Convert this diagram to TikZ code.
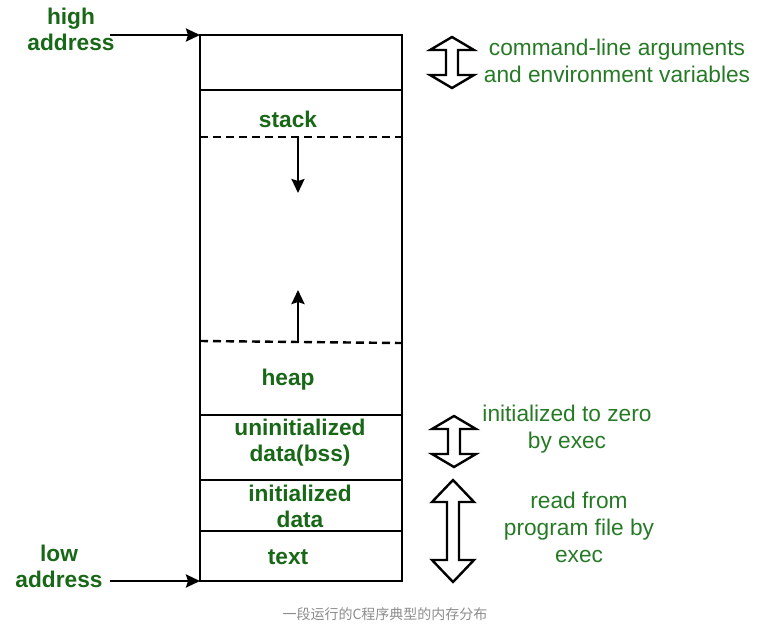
\documentclass[tikz,border=0pt]{standalone}
\usepackage{fontspec}
\setmainfont{Liberation Sans}
\newfontfamily\cjkfont{Noto Sans CJK SC}
\usepackage{tikz}
\usetikzlibrary{
  positioning,
  arrows.meta,
  arrows
}
\definecolor{labelgreen}{RGB}{24,104,24}
\definecolor{notegreen}{RGB}{38,122,38}
\definecolor{captiongray}{RGB}{140,140,140}

\tikzset{
  seg/.style={font=\fontsize{22.7}{26}\selectfont\bfseries, text=labelgreen, align=center, inner sep=0pt},
  note/.style={font=\fontsize{22.7}{27}\selectfont, text=notegreen, align=center, inner sep=0pt},
  hollow/.style={draw=black, line width=2.4pt, fill=white, line join=miter},
  cut/.style={dash pattern=on 8pt off 5pt, line width=2.4pt}
}

% hollow double arrow: x, top, bottom, head length, head half width
\newcommand{\hollowarrow}[5]{%
  \draw[hollow] (#1,#2) -- ({#1+#5},{#2+#4}) -- ({#1+6},{#2+#4}) -- ({#1+6},{#3-#4})
    -- ({#1+#5},{#3-#4}) -- (#1,#3) -- ({#1-#5},{#3-#4}) -- ({#1-6},{#3-#4})
    -- ({#1-6},{#2+#4}) -- ({#1-#5},{#2+#4}) -- cycle;}

\begin{document}
\begin{tikzpicture}[x=1pt,y=-1pt,>={Stealth[length=14pt,width=13pt,inset=2pt]},line width=2.4pt]
        \useasboundingbox (0,0) rectangle (768,627);
        % memory block
        \coordinate (memtop) at (200,35);
        \coordinate (membot) at (200,581);
        \draw (memtop) rectangle (402,581);
        \draw (200,90) -- (402,90);
        \draw (200,415) -- (402,415);
        \draw (200,480) -- (402,480);
        \draw (200,531) -- (402,531);
        \draw[cut] (200,137) -- (402,137);
        \draw[cut] (200,341) -- (402,343);
        % segment labels
        \node[seg] (stack) at (288,119) {stack};
        \node[seg] (heap) at (288,380) {heap};
        \node[seg] (bss) at (300,443) {uninitialized\\data(bss)};
        \node[seg] (data) at (300,506) {initialized\\data};
        \node[seg] (text) at (288,557) {text};
        \draw[->] (298,137) -- (298,193);
        \draw[->] (298,341) -- (298,290);
        % addresses
        \node[seg] (high) at (71,29) {high\\address};
        \node[seg] (low) at (59,566) {low\\address};
        \coordinate (highfrom) at (110,35);
        \coordinate (lowfrom) at (110,581);
        \draw[->] (highfrom) -- (memtop);
        \draw[->] (lowfrom) -- (membot);
        % notes on the right
        \hollowarrow{452}{37}{88}{13}{22}
        \hollowarrow{454}{416}{467}{13}{22}
        \hollowarrow{453}{480}{582}{22}{21}
        \node[note] (args) at (617,61) {command-line arguments\\and environment variables};
        \node[note] (zero) at (567,429) {initialized to zero\\by exec};
        \node[note] (read) at (579,527) {read from\\program file by\\exec};
        % caption
        \node[font=\cjkfont\fontsize{14}{16}\selectfont, text=captiongray] (caption) at (385,614) {一段运行的C程序典型的内存分布};
\end{tikzpicture}
\end{document}
